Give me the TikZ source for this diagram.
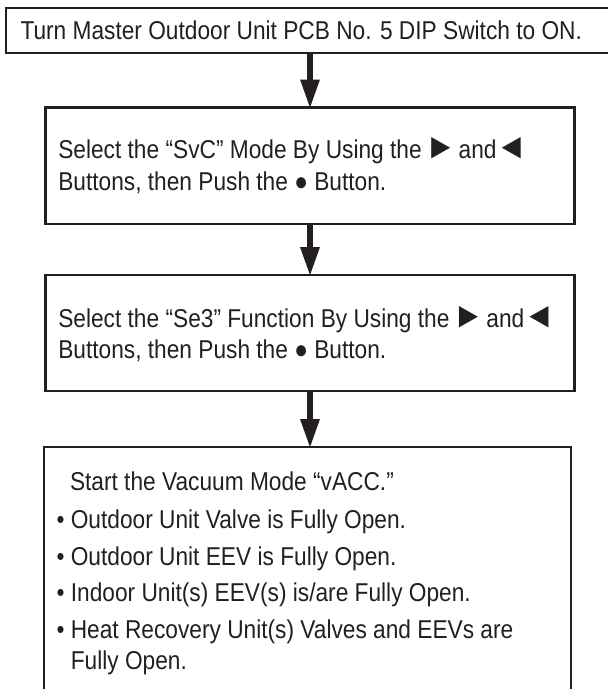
\documentclass[tikz,border=0pt]{standalone}
\usepackage{fontspec}
\setmainfont{Liberation Sans}[FakeStretch=0.88]
\usetikzlibrary{arrows.meta}
\definecolor{ink}{HTML}{231F20}
\newcommand{\bigsym}[1]{{\fontsize{36}{31}\selectfont #1}}
\newcommand{\rlbuttons}{\kern-3pt\bigsym{►}\kern-4pt{} and\kern-1pt\bigsym{◄}}
\tikzset{
  box/.style={draw=ink, line width=2.3pt, outer sep=0pt, inner sep=0pt, anchor=north west},
  txt/.style={anchor=base west, inner sep=0pt, outer sep=0pt, text=ink, font=\fontsize{25.8}{31}\selectfont},
  flow/.style={draw=ink, line width=5.3pt, -{Triangle[width=20pt,length=28pt,line width=0pt]}}
}
\begin{document}
\begin{tikzpicture}[x=1pt,y=-1pt]
\useasboundingbox (0,0) rectangle (608,689);
% boxes
\node[box, minimum width=620pt, minimum height=45.5pt] (b1) at (6.2,7.7) {};
\node[box, minimum width=529pt, minimum height=116.8pt] (b2) at (45.5,107.5) {};
\node[box, minimum width=529pt, minimum height=116pt] (b3) at (45.5,275) {};
\node[box, minimum width=527pt, minimum height=300pt] (b4) at (44,447) {};
% texts
\node[txt] (t1) at (20.5,39.3) {Turn Master Outdoor Unit PCB No. 5 DIP Switch to ON.};
\node[txt] (t2a) at (58.3,158.5) {Select the “SvC” Mode By Using the \rlbuttons};
\node[txt] (t2b) at (58.3,190.5) {Buttons, then Push the ● Button.};
\node[txt] (t3a) at (58.3,327) {Select the “Se3” Function By Using the \rlbuttons};
\node[txt] (t3b) at (58.3,358) {Buttons, then Push the ● Button.};
\node[txt] (t4a) at (70,490) {Start the Vacuum Mode “vACC.”};
\node[txt] (t4b) at (56.6,528.3) {• Outdoor Unit Valve is Fully Open.};
\node[txt] (t4c) at (56.6,565) {• Outdoor Unit EEV is Fully Open.};
\node[txt] (t4d) at (56.6,601.7) {• Indoor Unit(s) EEV(s) is/are Fully Open.};
\node[txt] (t4e) at (56.6,638.3) {• Heat Recovery Unit(s) Valves and EEVs are};
\node[txt] (t4f) at (56.6,669.3) {\phantom{• }Fully Open.};
% connectors
\draw[flow] (b2.north |- b1.south) -- (b2.north);
\draw[flow] (b2.south) -- (b3.north);
\draw[flow] (b3.south) -- (b3.south |- b4.north);
\end{tikzpicture}
\end{document}
